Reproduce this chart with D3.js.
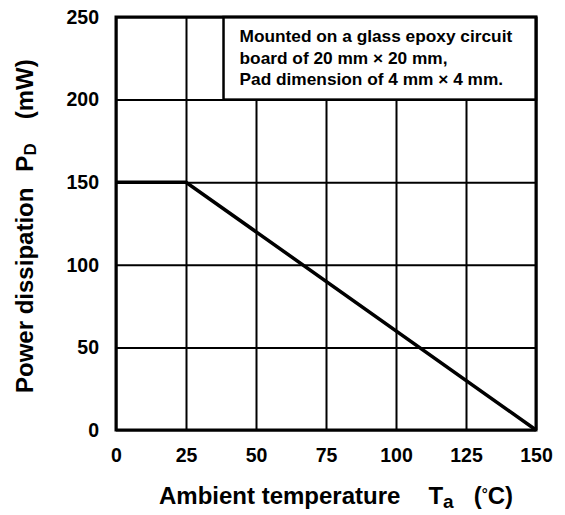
<!DOCTYPE html>
<html>
<head>
<meta charset="utf-8">
<script src="https://d3js.org/d3.v7.min.js"></script>
<style>
  body { margin: 0; background: #fff; }
  text { font-family: "Liberation Sans", Arial, sans-serif; font-weight: bold; fill: #000; }
</style>
</head>
<body>
<div class="chart"></div>
<script>
// derating curve data
var tempTicks = [0, 25, 50, 75, 100, 125, 150];
var powerTicks = [0, 50, 100, 150, 200, 250];
var curveTemp = [0, 25, 150];
var curvePower = [150, 150, 0];
var noteLines = [
  "Mounted on a glass epoxy circuit",
  "board of 20 mm \u00d7 20 mm,",
  "Pad dimension of 4 mm \u00d7 4 mm."
];

var svgWidth = 565;
var svgHeight = 515;

var margin = { top: 17, right: 29, bottom: 85, left: 116 };
var width = svgWidth - margin.left - margin.right;
var height = svgHeight - margin.top - margin.bottom;

var svg = d3.select(".chart")
  .append("svg")
  .attr("width", svgWidth)
  .attr("height", svgHeight);

var chartGroup = svg.append("g")
  .attr("transform", `translate(${margin.left}, ${margin.top})`);

var xScale = d3.scaleLinear().domain([0, 150]).range([0, width]);
var yScale = d3.scaleLinear().domain([0, 250]).range([height, 0]);

// grid lines via axes
var xGrid = chartGroup.append("g")
  .attr("transform", `translate(0, ${height})`)
  .call(d3.axisBottom(xScale).tickValues(tempTicks).tickSize(-height).tickFormat(""));
var yGrid = chartGroup.append("g")
  .call(d3.axisLeft(yScale).tickValues(powerTicks).tickSize(-width).tickFormat(""));
[xGrid, yGrid].forEach(function(g) {
  g.select(".domain").remove();
  g.selectAll("line").attr("stroke", "#000").attr("stroke-width", 2);
});

// tick labels
var xAxis = chartGroup.append("g")
  .attr("transform", `translate(0, ${height})`)
  .call(d3.axisBottom(xScale).tickValues(tempTicks).tickSize(0).tickPadding(18));
var yAxis = chartGroup.append("g")
  .call(d3.axisLeft(yScale).tickValues(powerTicks).tickSize(0).tickPadding(17));
[xAxis, yAxis].forEach(function(g) {
  g.select(".domain").remove();
  g.selectAll("text")
    .style("font-size", "19.5px")
    .style("font-family", "'Liberation Sans', Arial, sans-serif")
    .style("font-weight", "bold")
    .attr("fill", "#000");
});

// note box
var boxX = xScale(38.4);
chartGroup.append("rect")
  .attr("x", boxX)
  .attr("y", yScale(250))
  .attr("width", xScale(150) - boxX)
  .attr("height", yScale(200) - yScale(250))
  .attr("fill", "#fff")
  .attr("stroke", "#000")
  .attr("stroke-width", 2.5);

chartGroup.append("g")
  .selectAll("text")
  .data(noteLines)
  .enter()
  .append("text")
  .attr("x", boxX + 16)
  .attr("y", (d, i) => 25 + i * 21.5)
  .style("font-size", "17.3px")
  .text(d => d);

// frame
chartGroup.append("rect")
  .attr("x", 0)
  .attr("y", 0)
  .attr("width", width)
  .attr("height", height)
  .attr("fill", "none")
  .attr("stroke", "#000")
  .attr("stroke-width", 3);

// derating curve
var curve = curveTemp.map((t, i) => [t, curvePower[i]]);
chartGroup.append("path")
  .datum(curve)
  .attr("d", d3.line().x(d => xScale(d[0])).y(d => yScale(d[1])))
  .attr("fill", "none")
  .attr("stroke", "#000")
  .attr("stroke-width", 3.5);

// axis titles
var xTitle = svg.append("text")
  .attr("x", 159)
  .attr("y", 504)
  .style("font-size", "24px");
xTitle.append("tspan").text("Ambient temperature");
xTitle.append("tspan").attr("dx", 28).text("T");
xTitle.append("tspan").attr("dy", 4).style("font-size", "19px").text("a");
xTitle.append("tspan").attr("dy", -4).attr("dx", 20).text("(");
xTitle.append("tspan").style("font-size", "15px").attr("dy", -5).text("\u00b0");
xTitle.append("tspan").attr("dy", 5).text("C)");

var yTitle = svg.append("text")
  .attr("transform", "translate(33, 393) rotate(-90)")
  .style("font-size", "24px");
yTitle.append("tspan").text("Power dissipation");
yTitle.append("tspan").attr("dx", 16).text("P");
yTitle.append("tspan").attr("dy", 3).style("font-size", "17px").text("D");
yTitle.append("tspan").attr("dy", -3).attr("dx", 24).text("(mW)");
</script>
</body>
</html>
